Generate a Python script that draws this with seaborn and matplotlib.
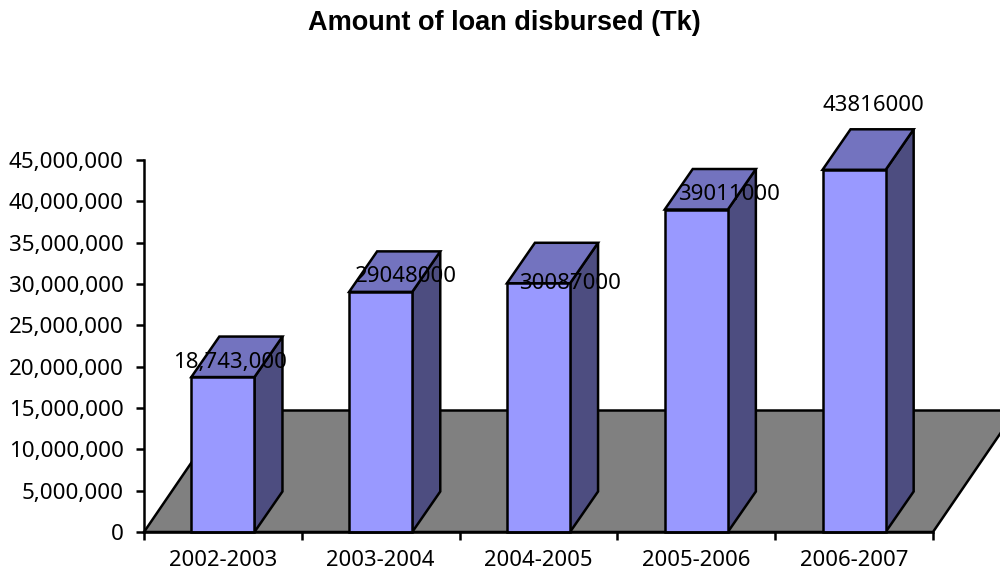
import matplotlib
matplotlib.use('Agg')
import matplotlib.pyplot as plt
from matplotlib.patches import Polygon
from matplotlib.ticker import FuncFormatter
import numpy as np
import pandas as pd
import seaborn as sns

# data
periods = ['2002-2003', '2003-2004', '2004-2005', '2005-2006', '2006-2007']
amounts = [18743000, 29048000, 30087000, 39011000, 43816000]
bar_labels = ['18,743,000', '29048000', '30087000', '39011000', '43816000']

# label placement relative to the top of the bar (pixels)
label_dx = [7, 25, 32, 33, 19]
label_dy = [15, 15, 0, 15, 64]

# colours
front_color = '#9999FF'
top_color = '#7373BF'
side_color = '#4D4D80'
floor_color = '#808080'
line_w = 1.8

sns.set_theme(style='white')
plt.rcParams['font.family'] = ['Noto Sans', 'DejaVu Sans']

df = pd.DataFrame({'period': periods, 'amount': amounts})

fig = plt.figure(figsize=(10, 5.73), dpi=100)
ax = fig.add_axes([0.144, 41 / 573, 0.789, 372 / 573])

sns.barplot(data=df, x='period', y='amount', ax=ax, color=front_color, saturation=1,
            width=0.4, edgecolor='black', linewidth=line_w, zorder=3)

ax.set_xlim(-0.5, len(periods) - 0.5)
ax.set_ylim(0, 45000000)
ax.set_xlabel('')
ax.set_ylabel('')

# depth of the fake 3d, pixels converted to data units
px_x = 1 / (789 / len(periods))
px_y = 45000000 / 372
dx, dy = 28 * px_x, 40.5 * px_y
floor_dx, floor_dy = 83 * px_x, 121.5 * px_y

x0, x1 = ax.get_xlim()
floor = Polygon([(x0, 0), (x1, 0), (x1 + floor_dx, floor_dy), (x0 + floor_dx, floor_dy)],
                facecolor=floor_color, edgecolor='black', linewidth=line_w, clip_on=False, zorder=1)
ax.add_patch(floor)

for bar in ax.patches[:len(periods)]:
    left, right = bar.get_x(), bar.get_x() + bar.get_width()
    h = bar.get_height()
    side = Polygon([(right, 0), (right + dx, dy), (right + dx, h + dy), (right, h)],
                   facecolor=side_color, edgecolor='black', linewidth=line_w, joinstyle='miter',
                   clip_on=False, zorder=2.6)
    top = Polygon([(left, h), (left + dx, h + dy), (right + dx, h + dy), (right, h)],
                  facecolor=top_color, edgecolor='black', linewidth=line_w, joinstyle='miter',
                  clip_on=False, zorder=2.7)
    ax.add_patch(side)
    ax.add_patch(top)
    bar.set_clip_on(False)

for i, label in enumerate(bar_labels):
    ax.annotate(label, (i, amounts[i]), xytext=(label_dx[i], label_dy[i]), textcoords='offset pixels',
                ha='center', va='center', fontsize=16, color='black', zorder=6, annotation_clip=False)

# ticks sit between the categories, labels in the middle
ax.set_xticks(np.arange(len(periods) + 1) - 0.5, labels=[''] * (len(periods) + 1))
ax.set_xticks(np.arange(len(periods)), labels=periods, minor=True)
ax.yaxis.set_major_locator(plt.MultipleLocator(5000000))
ax.yaxis.set_major_formatter(FuncFormatter(lambda v, pos: f'{int(v):,}'))
ax.tick_params(axis='x', which='major', length=6, width=line_w, color='black', bottom=True)
ax.tick_params(axis='x', which='minor', length=0, labelsize=15.9, pad=13, labelcolor='black')
ax.tick_params(axis='y', which='major', length=6, width=line_w, color='black', left=True,
               labelsize=16.1, pad=8.5, labelcolor='black')

sns.despine(ax=ax)
for s in ['left', 'bottom']:
    ax.spines[s].set_color('black')
    ax.spines[s].set_linewidth(line_w)
    ax.spines[s].set_zorder(4)

fig.text(0.5045, 1 - 23.5 / 573, 'Amount of loan disbursed (Tk)', ha='center', va='center',
         fontsize=19.5, fontweight='bold', family='Liberation Sans', color='black')

fig.savefig('out.png', dpi=100, facecolor='white')
